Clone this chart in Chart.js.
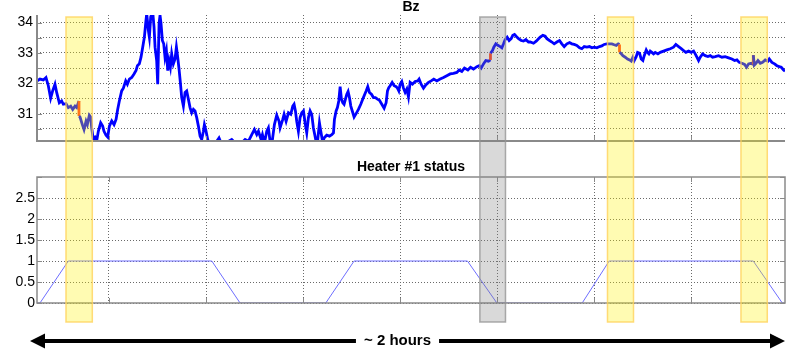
<!DOCTYPE html>
<html>
<head>
<meta charset="utf-8">
<script src="https://cdn.jsdelivr.net/npm/chart.js@4.4.0/dist/chart.umd.min.js"></script>
<style>
  html, body { margin: 0; padding: 0; background: #fff; }
  #wrap { position: relative; width: 792px; height: 355px; overflow: hidden; }
  #bzChart { position: absolute; left: 0; top: 0; }
  #heaterChart { position: absolute; left: 0; top: 150px; }
  #overlay { position: absolute; left: 0; top: 0; pointer-events: none; }
</style>
</head>
<body>
<div id="wrap">
  <canvas id="bzChart" width="792" height="150"></canvas>
  <canvas id="heaterChart" width="792" height="205"></canvas>
  <canvas id="overlay" width="792" height="355"></canvas>
</div>
<script>
// time axis in minutes, grid every 15 min
const timeMin = 3.87;
const timeMax = 119.5;
const timeTicks = [15, 30, 45, 60, 75, 90, 105];

// Bz trace; repeated time = a jump, drawn red
const bzTime = [
  3.9, 4.33, 4.85, 5.26, 5.62, 5.98, 6.29, 6.65, 6.91, 7.32,
  7.68, 7.94, 8.35, 8.71, 9.08, 9.39, 9.75, 10.0, 10.36, 10.36,
  10.52, 10.88, 11.14, 11.45, 11.65, 11.96, 12.17, 12.32, 12.58, 12.84,
  13.10, 13.35, 13.71, 14.02, 14.23, 14.54, 14.80, 15.06, 15.42, 15.78,
  16.09, 16.34, 16.60, 16.96, 17.22, 17.58, 17.84, 18.15, 18.51, 18.87,
  19.18, 19.39, 19.69, 19.95, 20.21, 20.47, 20.67, 20.83, 21.09, 21.24,
  21.45, 21.76, 21.96,
  22.12, 22.37, 22.53, 22.74, 22.89, 23.04, 23.25, 23.46, 23.66, 23.87,
  24.08, 24.28, 24.49, 24.69, 24.95, 25.21, 25.42, 25.62, 25.83, 26.03,
  26.24, 26.50, 26.76, 27.01, 27.27, 27.53, 27.79, 28.05, 28.30, 28.56,
  28.82, 29.08, 29.33, 29.59, 29.75, 29.95, 30.26, 30.47, 30.88, 31.65,
  32.01, 32.32, 32.94, 33.46, 33.97, 34.49, 35.01, 35.52, 36.04, 36.55,
  37.07, 37.48, 37.84, 38.10, 38.51, 38.72, 39.03, 39.39, 39.64, 39.90,
  40.16, 40.57, 40.93, 41.29,
  41.45, 41.86, 42.07, 42.38, 42.74, 43.10, 43.41, 43.61, 43.82, 44.02,
  44.28, 44.54, 44.80, 45.06, 45.31, 45.57, 45.83, 46.09, 46.34, 46.60,
  47.01, 47.22, 47.53, 47.74, 48.05, 48.25, 48.66, 49.08, 49.44, 49.70,
  49.85, 50.11, 50.31, 50.52, 50.73, 50.93, 51.14, 51.34, 51.55, 51.76,
  51.96, 52.17, 52.38, 52.69, 52.89, 53.20, 53.56, 53.92, 54.33, 54.75,
  55.00, 55.26, 55.57, 55.88, 56.19, 56.50, 56.81, 57.17, 57.53, 57.84,
  58.05, 58.25, 58.46, 58.77, 59.08, 59.39, 59.59, 59.80, 60.00, 60.26,
  60.52,
  60.78, 61.04, 61.29, 61.55, 61.91, 62.32, 62.74, 62.94, 63.25, 63.61,
  63.97, 64.39, 64.80, 65.21, 65.68, 66.19, 66.71, 67.22, 67.74, 68.25,
  68.77, 69.13, 69.54, 69.95, 70.47, 70.88, 71.35, 71.86, 72.22, 72.53,
  72.89, 73.25, 73.67, 73.97, 73.97, 74.28, 74.49, 74.80, 75.11, 75.47,
  75.73, 75.99, 76.24, 76.55, 76.86, 77.17, 77.43, 77.69, 77.94, 78.31,
  78.72, 79.08, 79.44, 79.85,
  80.11, 80.62, 81.04, 81.40, 81.65, 82.07, 82.43, 82.69, 83.10, 83.46,
  83.82, 84.23, 84.64, 85.00, 85.37, 85.78, 86.19, 86.55, 86.91, 87.32,
  87.74, 88.10, 88.46, 88.87, 89.28, 89.64, 90.01, 90.42, 90.83, 91.19,
  91.55, 91.96, 92.38, 92.74, 93.10, 93.41, 93.72, 93.92, 93.92, 94.13,
  94.44, 94.80, 95.16, 95.47, 95.73, 95.99, 96.19, 96.50, 96.71, 97.02,
  97.27, 97.53, 97.74, 98.05, 98.25, 98.46, 98.67, 98.92, 99.18,
  99.44, 99.85, 100.21, 100.73, 101.24, 101.76, 102.27, 102.63, 103.05, 103.46,
  103.82, 104.18, 104.59, 105.01, 105.37, 105.62, 105.88, 106.14, 106.40, 106.76,
  107.17, 107.58, 107.94, 108.30, 108.72, 109.23, 109.75, 110.26, 110.78, 111.29,
  111.71, 112.07, 112.43, 112.84, 113.25, 113.56, 113.87, 114.28, 114.6, 114.6,
  114.75, 115.01, 115.32, 115.68, 116.04, 116.45, 116.86, 117.07, 117.48, 117.89,
  118.25, 118.62, 118.92, 119.28, 119.5
];
const bzValue = [
  32.08, 32.14, 32.11, 32.19, 31.92, 31.51, 31.75, 31.97, 31.70, 31.36,
  31.42, 31.31, 31.33, 31.20, 31.25, 31.14, 31.25, 31.20, 31.42, 30.92,
  30.89, 30.64, 30.48, 30.75, 30.64, 30.95, 30.89, 30.53, 30.15, 30.22,
  30.11, 30.42, 30.70, 30.59, 30.42, 30.29, 30.23, 30.59, 30.76, 30.64,
  30.81, 31.14, 31.42, 31.75, 31.84, 32.08, 31.97, 32.14, 32.19, 32.31,
  32.42, 32.58, 32.64, 32.86, 33.19, 33.52, 33.97, 34.30, 33.74, 33.52,
  34.19, 34.35, 33.86,
  33.19, 32.75, 31.97, 33.97, 34.24, 33.97, 33.41, 33.30, 32.86, 33.08,
  32.42, 32.75, 32.53, 32.97, 32.64, 32.80, 33.19, 32.86, 32.47, 32.03,
  31.53, 31.25, 31.70, 31.75, 31.48, 31.20, 31.03, 31.14, 31.09, 30.87,
  30.59, 30.26, 30.15, 30.42, 30.64, 30.48, 30.15, 30.04, 29.98, 30.09,
  30.20, 30.04, 29.98, 30.09, 30.15, 30.04, 29.98, 30.04, 30.15, 30.09,
  30.31, 30.48, 30.31, 30.42, 30.15, 30.31, 30.04, 30.42, 30.53, 30.09,
  29.98, 30.64, 30.95, 30.75,
  30.53, 30.81, 30.98, 30.75, 31.03, 30.98, 31.25, 31.31, 31.09, 30.75,
  30.42, 30.87, 31.03, 31.09, 30.70, 30.37, 30.87, 31.09, 30.98, 30.53,
  30.09, 30.04, 30.70, 30.42, 30.04, 30.20, 30.29, 30.26, 30.31, 30.37,
  30.81, 31.09, 31.20, 31.42, 31.89, 31.48, 31.36, 31.31, 31.48, 31.64,
  31.73, 31.53, 31.25, 31.03, 30.89, 31.00, 31.14, 31.31, 31.53, 31.75,
  31.89, 31.70, 31.64, 31.53, 31.53, 31.48, 31.44, 31.31, 31.18, 31.36,
  31.75, 31.86, 31.92, 32.03, 31.92, 31.89, 31.84, 31.75, 31.97, 32.06,
  31.84,
  31.70, 31.81, 31.55, 32.03, 31.97, 32.06, 32.08, 32.14, 31.97, 31.84,
  31.95, 32.03, 32.08, 32.14, 32.08, 32.14, 32.19, 32.25, 32.31, 32.33,
  32.36, 32.44, 32.39, 32.50, 32.44, 32.53, 32.47, 32.55, 32.58, 32.50,
  32.64, 32.75, 32.73, 32.77, 32.99, 33.08, 33.19, 33.30, 33.25, 33.21,
  33.17, 33.30, 33.44, 33.52, 33.41, 33.47, 33.58, 33.61, 33.55, 33.47,
  33.41, 33.39, 33.44, 33.36,
  33.36, 33.32, 33.39, 33.47, 33.52, 33.58, 33.55, 33.47, 33.41, 33.36,
  33.30, 33.36, 33.41, 33.30, 33.21, 33.30, 33.34, 33.30, 33.28, 33.25,
  33.17, 33.14, 33.21, 33.19, 33.21, 33.17, 33.19, 33.17, 33.21, 33.23,
  33.28, 33.30, 33.30, 33.30, 33.27, 33.25, 33.30, 33.28, 33.02, 32.99,
  32.91, 32.86, 32.80, 32.77, 32.73, 32.86, 32.75, 32.88, 33.02, 32.99,
  32.80, 32.75, 32.91, 33.10, 33.02, 32.97, 33.06, 33.02, 32.97,
  33.02, 32.97, 33.02, 33.06, 33.10, 33.14, 33.19, 33.28, 33.21, 33.14,
  33.08, 33.02, 33.06, 33.02, 33.06, 32.97, 32.86, 32.75, 32.86, 32.97,
  32.91, 32.88, 32.91, 32.86, 32.88, 32.91, 32.86, 32.88, 32.84, 32.80,
  32.75, 32.77, 32.69, 32.66, 32.62, 32.53, 32.64, 32.66, 32.62, 32.93,
  32.60, 32.66, 32.75, 32.66, 32.69, 32.77, 32.73, 32.80, 32.69, 32.64,
  32.58, 32.55, 32.53, 32.44, 32.40
];

// heater on/off
const heaterTime = [3.87, 4.33, 8.71, 30.89, 35.26, 48.51, 52.89, 70.41, 74.96, 88.15, 92.32, 114.59, 119.08, 119.5];
const heaterValue = [0, 0, 1, 1, 0, 0, 1, 1, 0, 0, 1, 1, 0, 0];

// shaded windows (minutes)
const windowStart = [8.35, 72.33, 92.06, 112.69];
const windowEnd = [12.42, 76.29, 96.08, 116.76];
const windowKind = ['yellow', 'gray', 'yellow', 'yellow'];

const durationLabel = '~ 2 hours';

Chart.defaults.font.family = 'Arial, "Liberation Sans", sans-serif';
Chart.defaults.color = '#000';

const GRID = '#6a6a6a';
const AXIS = '#8a8a8a';

// MATLAB-like frame with inward tick marks
const matlabAxes = {
  id: 'matlabAxes',
  afterDraw(chart, args, opts) {
    const { ctx, chartArea: a } = chart;
    const xs = chart.scales.x, ys = chart.scales.y;
    ctx.save();
    ctx.strokeStyle = AXIS;
    ctx.lineWidth = 1;
    ctx.beginPath();
    xs.ticks.forEach(t => {
      const p = Math.round(xs.getPixelForValue(t.value)) + 0.5;
      ctx.moveTo(p, a.bottom); ctx.lineTo(p, a.bottom - 5);
      if (opts.box) { ctx.moveTo(p, a.top); ctx.lineTo(p, a.top + 5); }
    });
    ys.ticks.forEach(t => {
      const p = Math.round(ys.getPixelForValue(t.value)) + 0.5;
      ctx.moveTo(a.left, p); ctx.lineTo(a.left + 5, p);
      if (opts.box) { ctx.moveTo(a.right, p); ctx.lineTo(a.right - 5, p); }
    });
    ctx.stroke();
    ctx.lineWidth = opts.width;
    ctx.beginPath();
    if (opts.box) {
      ctx.rect(a.left, a.top, a.right - a.left, a.bottom - a.top);
    } else {
      ctx.moveTo(a.left, a.top); ctx.lineTo(a.left, a.bottom); ctx.lineTo(a.right, a.bottom);
    }
    ctx.stroke();
    ctx.restore();
  }
};

function timeAxis() {
  return {
    type: 'linear', min: timeMin, max: timeMax,
    afterBuildTicks: s => { s.ticks = timeTicks.map(v => ({ value: v })); },
    ticks: { display: false },
    grid: { color: GRID, drawTicks: false },
    border: { display: false, dash: [1, 2] }
  };
}

// fixed-width value axis, no extra padding for edge labels
function fitValueAxis(s) {
  s.width = 37;
  s.paddingTop = 0;
  s.paddingBottom = 0;
}

const bzChart = new Chart(document.getElementById('bzChart'), {
  type: 'line',
  data: {
    datasets: [{
      data: bzTime.map((t, i) => ({ x: t, y: bzValue[i] })),
      borderColor: '#0000ff',
      borderWidth: 2.8,
      pointRadius: 0,
      tension: 0,
      clip: 0,
      segment: {
        borderColor: ctx => ctx.p0.parsed.x === ctx.p1.parsed.x ? '#ff3c1e' : undefined
      }
    }]
  },
  options: {
    responsive: false,
    animation: false,
    devicePixelRatio: 1,
    layout: { padding: { left: 0, right: 7, top: 0, bottom: 9 } },
    plugins: {
      legend: { display: false },
      tooltip: { enabled: false },
      title: {
        display: true, text: 'Bz', fullSize: false,
        font: { size: 14, weight: 'bold', lineHeight: 1 },
        padding: { top: 0, bottom: 1 }
      },
      matlabAxes: { box: false, width: 2 }
    },
    scales: {
      x: timeAxis(),
      y: {
        min: 30.1, max: 34.25,
        afterFit: fitValueAxis,
        ticks: {
          stepSize: 0.5, includeBounds: false, padding: 4, font: { size: 14 },
          autoSkip: false,
          callback: v => Math.abs(v - Math.round(v)) < 1e-6 ? String(Math.round(v)) : ''
        },
        grid: { color: GRID, drawTicks: false },
        border: { display: false, dash: [1, 2] }
      }
    }
  },
  plugins: [matlabAxes]
});

const heaterChart = new Chart(document.getElementById('heaterChart'), {
  type: 'line',
  data: {
    datasets: [{
      data: heaterTime.map((t, i) => ({ x: t, y: heaterValue[i] })),
      borderColor: '#6e6eff',
      borderWidth: 1,
      pointRadius: 0,
      tension: 0
    }]
  },
  options: {
    responsive: false,
    animation: false,
    devicePixelRatio: 1,
    layout: { padding: { left: 0, right: 7, top: 10, bottom: 52 } },
    plugins: {
      legend: { display: false },
      tooltip: { enabled: false },
      title: {
        display: true, text: 'Heater #1 status', fullSize: false,
        font: { size: 14, weight: 'bold', lineHeight: 1 },
        padding: { top: 0, bottom: 3 }
      },
      matlabAxes: { box: true, width: 1.5 }
    },
    scales: {
      x: timeAxis(),
      y: {
        min: 0, max: 3,
        afterFit: fitValueAxis,
        ticks: {
          stepSize: 0.5, padding: 2, font: { size: 14 },
          callback: v => v === 3 ? '' : v
        },
        grid: { color: c => c.tick.value === 3 ? 'rgba(0,0,0,0)' : GRID, drawTicks: false },
        border: { display: false, dash: [1, 2] }
      }
    }
  },
  plugins: [matlabAxes]
});

// shaded windows across both panels, plus the duration arrow
function drawOverlay() {
  const ctx = document.getElementById('overlay').getContext('2d');
  const xs = bzChart.scales.x;
  const top = bzChart.chartArea.top + 2;
  const bottom = 150 + heaterChart.chartArea.bottom + 19;

  windowStart.forEach((s, i) => {
    const x0 = xs.getPixelForValue(s);
    const x1 = xs.getPixelForValue(windowEnd[i]);
    if (windowKind[i] === 'gray') {
      ctx.fillStyle = 'rgba(128,128,128,0.3)';
      ctx.strokeStyle = 'rgba(150,150,150,0.8)';
    } else {
      ctx.fillStyle = 'rgba(255,242,0,0.3)';
      ctx.strokeStyle = 'rgba(255,210,90,0.8)';
    }
    ctx.lineWidth = 1.5;
    ctx.fillRect(x0, top, x1 - x0, bottom - top);
    ctx.strokeRect(x0, top, x1 - x0, bottom - top);
  });

  // double arrow with label
  const y = 150 + heaterChart.chartArea.bottom + 38;
  const left = xs.left - 7;
  const right = xs.right;
  const mid = (left + right) / 2 - 10;
  ctx.font = 'bold 15px Arial, "Liberation Sans", sans-serif';
  ctx.fillStyle = '#000';
  ctx.textAlign = 'center';
  ctx.textBaseline = 'middle';
  ctx.fillText(durationLabel, mid, y);
  const half = ctx.measureText(durationLabel).width / 2 + 8;

  ctx.lineWidth = 4;
  ctx.strokeStyle = '#000';
  ctx.beginPath();
  ctx.moveTo(left + 10, y); ctx.lineTo(mid - half, y);
  ctx.moveTo(mid + half, y); ctx.lineTo(right - 10, y);
  ctx.stroke();
  ctx.beginPath();
  ctx.moveTo(left, y); ctx.lineTo(left + 15, y - 7.5); ctx.lineTo(left + 15, y + 7.5); ctx.closePath();
  ctx.moveTo(right, y); ctx.lineTo(right - 15, y - 7.5); ctx.lineTo(right - 15, y + 7.5); ctx.closePath();
  ctx.fill();
}

drawOverlay();
</script>
</body>
</html>
